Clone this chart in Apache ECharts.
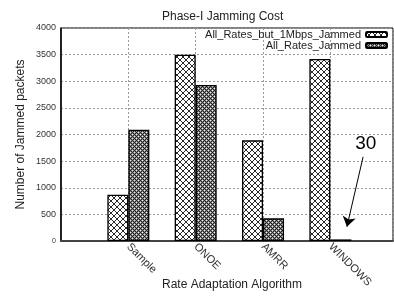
<!DOCTYPE html>
<html>
<head>
<meta charset="utf-8">
<script src="https://cdn.jsdelivr.net/npm/echarts@6/dist/echarts.min.js"></script>
<style>
  html, body { margin: 0; padding: 0; background: #fff; }
  #chart { width: 394px; height: 297px; }
</style>
</head>
<body>
<div id="chart"></div>
<script>
// algorithms on the x axis
const categories = ['Sample', 'ONOE', 'AMRR', 'WINDOWS']
const seriesNames = ['All_Rates_but_1Mbps_Jammed', 'All_Rates_Jammed']
const butOneMbps = [870, 3500, 1890, 3420]
const allRates = [2090, 2930, 425, 30]
const yTicks = [0, 500, 1000, 1500, 2000, 2500, 3000, 3500, 4000]

// hatch patterns for bars
function makePattern(kind) {
  const c = document.createElement('canvas')
  const ctx = c.getContext('2d')
  if (kind === 'cross') {
    c.width = 6; c.height = 6
    ctx.fillStyle = '#fff'
    ctx.fillRect(0, 0, 6, 6)
    ctx.strokeStyle = '#111'
    ctx.lineWidth = 0.9
    ctx.beginPath()
    ctx.moveTo(-1, -1); ctx.lineTo(7, 7)
    ctx.moveTo(-1, 7); ctx.lineTo(7, -1)
    ctx.stroke()
  } else {
    c.width = 4; c.height = 4
    ctx.fillStyle = '#888'
    ctx.fillRect(0, 0, 4, 4)
    ctx.fillStyle = '#222'
    ctx.fillRect(0, 0, 1, 1)
    ctx.fillRect(1, 1, 1, 1)
    ctx.fillRect(2, 2, 1, 1)
    ctx.fillRect(3, 3, 1, 1)
    ctx.fillRect(3, 1, 1, 1)
    ctx.fillRect(1, 3, 1, 1)
    ctx.fillStyle = '#eee'
    ctx.fillRect(2, 0, 1, 1)
    ctx.fillRect(0, 2, 1, 1)
  }
  return { image: c, repeat: 'repeat' }
}

const chart = echarts.init(document.getElementById('chart'))
const font = 'Liberation Sans, Arial, sans-serif'
const dotted = { color: '#999', width: 1, type: [2, 2] }

chart.setOption({
  animation: false,
  title: {
    text: 'Phase-I Jamming Cost',
    left: 157,
    top: 6,
    textStyle: { fontFamily: font, fontSize: 12, fontWeight: 'normal', color: '#222' }
  },
  legend: {
    orient: 'vertical',
    right: 6,
    top: 29,
    padding: 0,
    itemGap: 0,
    itemWidth: 21,
    itemHeight: 5,
    align: 'right',
    data: seriesNames,
    textStyle: { fontFamily: font, fontSize: 11, color: '#222', lineHeight: 8, padding: [0, 0, 0, 0] }
  },
  grid: {
    left: 61,
    top: 28,
    right: 1,
    bottom: 56,
    outerBoundsMode: 'none',
    containLabel: false,
    show: true,
    borderColor: '#000',
    borderWidth: 1
  },
  xAxis: {
    type: 'value',
    min: 0,
    max: 4.93,
    interval: 1,
    name: 'Rate Adaptation Algorithm',
    nameLocation: 'middle',
    nameGap: 38,
    nameMoveOverlap: false,
    nameTextStyle: { fontFamily: font, fontSize: 12, color: '#222', padding: [0, 0, 0, 10] },
    axisLine: { lineStyle: { color: '#444', width: 2 } },
    axisTick: { show: false },
    splitLine: { show: true, lineStyle: dotted },
    axisLabel: {
      rotate: -45,
      margin: 4,
      fontFamily: font,
      fontSize: 11,
      color: '#333',
      showMaxLabel: false,
      formatter: v => categories[v - 1] || ''
    }
  },
  yAxis: {
    type: 'value',
    min: 0,
    max: 4000,
    interval: 500,
    name: 'Number of Jammed packets',
    nameLocation: 'middle',
    nameGap: 34,
    nameMoveOverlap: false,
    nameTextStyle: { fontFamily: font, fontSize: 12, color: '#222' },
    axisLine: { show: true, lineStyle: { color: '#000', width: 1.5 } },
    axisTick: { show: false },
    splitLine: { show: true, lineStyle: dotted },
    axisLabel: {
      margin: 5,
      fontFamily: font,
      fontSize: 9,
      color: '#333',
      formatter: v => v === 0 ? '{s|0}' : String(v),
      rich: { s: { fontSize: 7, fontFamily: font, color: '#333' } }
    }
  },
  series: [
    {
      name: seriesNames[0],
      type: 'bar',
      barWidth: 21,
      barGap: '0%',
      data: butOneMbps.map((v, i) => [i + 1, v]),
      itemStyle: { color: makePattern('cross'), borderColor: '#000', borderWidth: 1.3 }
    },
    {
      name: seriesNames[1],
      type: 'bar',
      barWidth: 21,
      barGap: '0%',
      data: allRates.map((v, i) => [i + 1, v]),
      itemStyle: { color: makePattern('dense'), borderColor: '#000', borderWidth: 1.3 },
      // annotation for the tiny WINDOWS value (coords shifted by the bar offset)
      markLine: {
        silent: true,
        symbol: ['none', 'arrow'],
        symbolSize: 10,
        lineStyle: { color: '#000', width: 1, type: 'solid' },
        label: { show: false },
        data: [[{ coord: [4.33, 1580] }, { coord: [4.09, 268] }]]
      },
      markPoint: {
        silent: true,
        symbol: 'circle',
        symbolSize: 0,
        label: { show: true, formatter: '30', fontFamily: font, fontSize: 19, color: '#000', position: 'inside' },
        data: [{ coord: [4.37, 1830] }]
      }
    }
  ]
})
</script>
</body>
</html>
